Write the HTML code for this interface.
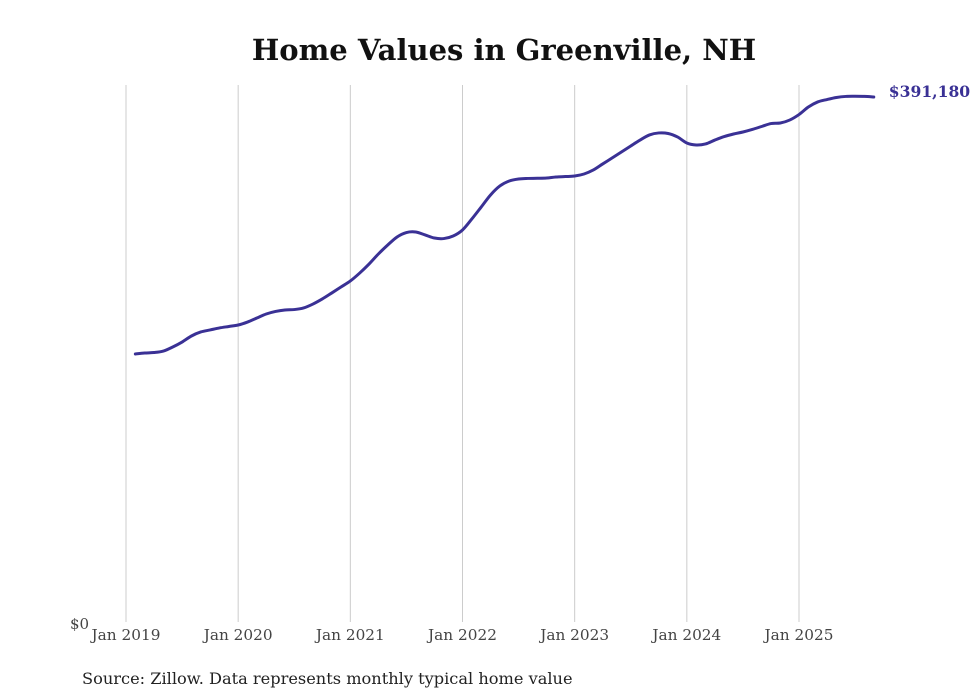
<!DOCTYPE html>
<html><head><meta charset="utf-8"><style>
html,body{margin:0;padding:0;background:#fff;}
svg{display:block;font-family:"DejaVu Serif",serif;}
</style></head><body>
<svg id="chart" width="980" height="699" viewBox="0 0 980 699">
<text x="504" y="60" text-anchor="middle" font-size="29" font-weight="bold" fill="#111">Home Values in Greenville, NH</text>
<g id="grid"></g>
<g id="xticks"></g>
<text x="70" y="629" font-size="15" fill="#444">$0</text>
<path id="line" fill="none" stroke="#3a3195" stroke-width="3" stroke-linejoin="round" stroke-linecap="round"></path>
<text id="endlabel" font-size="15.6" font-weight="bold" fill="#3a3195"></text>
<text x="82" y="684" font-size="16.2" fill="#222">Source: Zillow. Data represents monthly typical home value</text>
</svg>
<script>
const yearLabels = ["Jan 2019","Jan 2020","Jan 2021","Jan 2022","Jan 2023","Jan 2024","Jan 2025"];
const startMonthIndex = 1; // Feb 2019
const values = [199.7,200.4,200.8,201.9,204.9,208.6,213.1,216.1,217.6,219.1,220.2,
221.3,223.5,226.5,229.5,231.4,232.5,232.8,234.0,236.9,240.7,245.1,249.6,
254.1,260.0,266.7,274.2,280.9,286.9,290.2,290.6,288.4,286.1,285.7,287.6,
292.1,300.3,309.2,318.2,324.9,328.6,330.1,330.5,330.6,330.8,331.6,331.9,
332.3,333.8,336.8,341.3,345.7,350.2,354.7,359.1,362.9,364.4,364.0,361.4,
356.9,355.4,356.2,359.1,361.7,363.6,365.1,367.0,369.2,371.4,371.8,374.0,
378.1,383.7,387.5,389.3,390.8,391.6,391.7,391.6,391.18];
const endLabel = "$391,180";

const ns="http://www.w3.org/2000/svg";
const x0=126, monthW=(799-126)/72, yBase=622, yTop=97, maxV=391.18;
const xScale = m => x0 + m*monthW;
const yScale = v => yBase - v/maxV*(yBase-yTop);

const grid=document.getElementById('grid'), xt=document.getElementById('xticks');
yearLabels.forEach((lab,i)=>{
  const x=xScale(i*12);
  const l=document.createElementNS(ns,'line');
  l.setAttribute('x1',x);l.setAttribute('x2',x);l.setAttribute('y1',85);l.setAttribute('y2',622);
  l.setAttribute('stroke','#cccccc');l.setAttribute('stroke-width','1');
  
  
  grid.appendChild(l);
  const t=document.createElementNS(ns,'text');
  t.setAttribute('x',x);t.setAttribute('y',640);t.setAttribute('text-anchor','middle');
  t.setAttribute('font-size','15.3');t.setAttribute('fill','#444');
  t.textContent=lab;
  
  
  xt.appendChild(t);
});
const pts=values.map((v,i)=>[xScale(startMonthIndex+i),yScale(v)]);
let d='M'+pts[0][0]+','+pts[0][1];
for(let i=1;i<pts.length;i++){
  const p0=pts[Math.max(0,i-2)],p1=pts[i-1],p2=pts[i],p3=pts[Math.min(pts.length-1,i+1)];
  const c1x=p1[0]+(p2[0]-p0[0])/6,c1y=p1[1]+(p2[1]-p0[1])/6;
  const c2x=p2[0]-(p3[0]-p1[0])/6,c2y=p2[1]-(p3[1]-p1[1])/6;
  d+=` C${c1x},${c1y} ${c2x},${c2y} ${p2[0]},${p2[1]}`;
}
document.getElementById('line').setAttribute('d',d);
const last=pts[pts.length-1];
const el=document.getElementById('endlabel');
el.setAttribute('x',last[0]+15);el.setAttribute('y',last[1]);
el.textContent=endLabel;
</script>
</body></html>
